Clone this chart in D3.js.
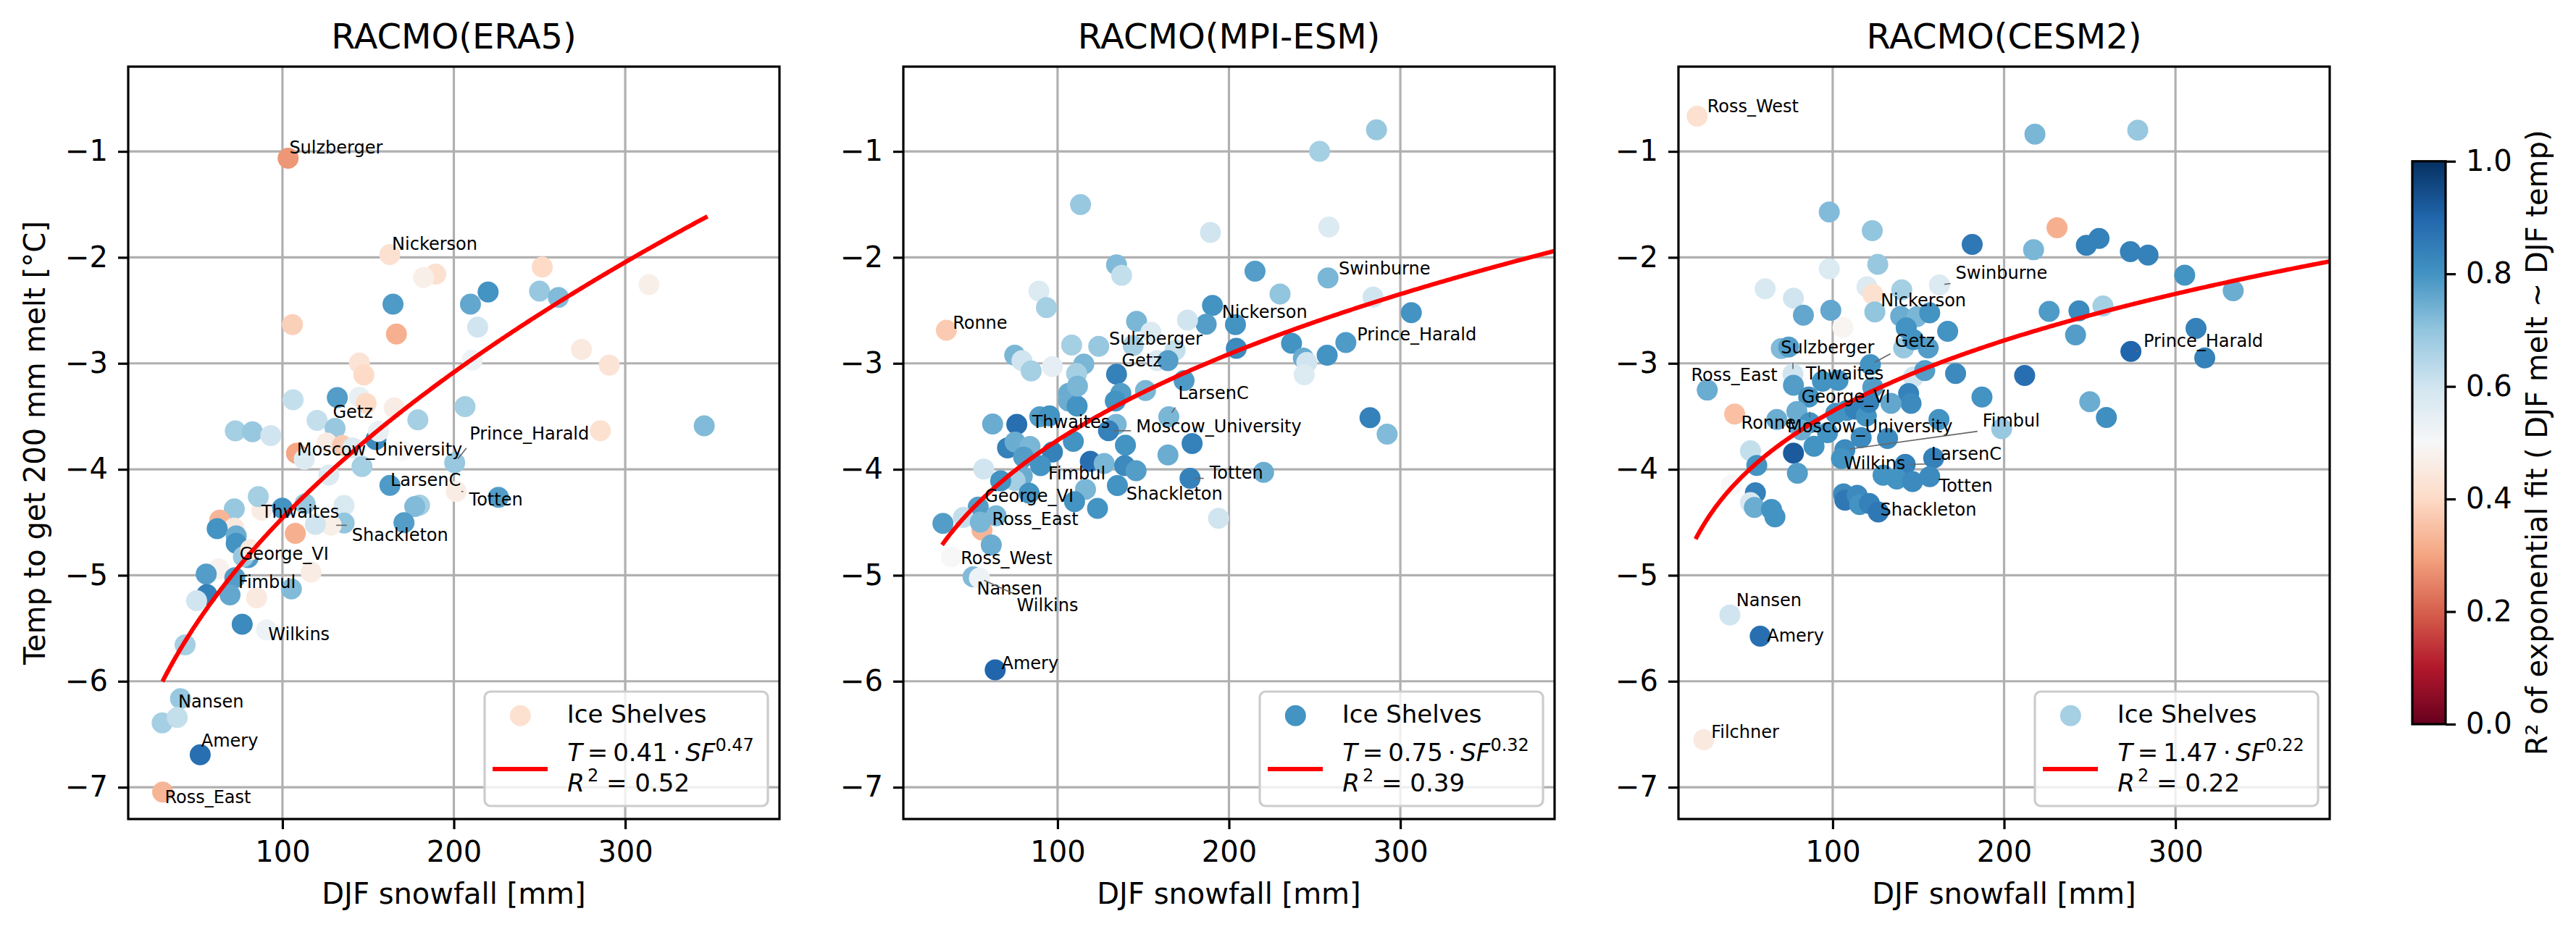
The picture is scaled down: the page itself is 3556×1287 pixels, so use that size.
<!DOCTYPE html>
<html>
<head>
<meta charset="utf-8">
<script src="https://cdn.jsdelivr.net/npm/d3@7"></script>
<style>
  body { margin: 0; background: #ffffff; }
  text { font-family: "DejaVu Sans", sans-serif; }
</style>
</head>
<body>
<svg id="chart" width="3556" height="1287"></svg>
<script>
// ---------------- DATA ----------------
const titles = ["RACMO(ERA5)", "RACMO(MPI-ESM)", "RACMO(CESM2)"];
const xTicks = [100, 200, 300];
const yTicks = [-1, -2, -3, -4, -5, -6, -7];
const cbTicks = [0.0, 0.2, 0.4, 0.6, 0.8, 1.0];
const xDomain = [10, 390];
const yDomain = [-7.3, -0.2];
const xLabel = "DJF snowfall [mm]";
const yLabel = "Temp to get 200 mm melt [°C]";
const cbLabel = "R² of exponential fit ( DJF melt ~ DJF temp)";
const legendName = "Ice Shelves";

// RACMO(ERA5)
const era5SF = [103.3,162.6,189.4,182.3,251.6,313.9,220.0,250.0,261.0,164.5,209.7,105.8,166.5,213.9,274.5,290.7,144.9,147.5,210.7,106.2,132.0,144.9,148.8,165.2,206.5,285.5,346.1,179.0,120.2,130.7,72.5,82.5,93.2,154.5,156.0,125.9,134.9,141.0,169.5,108.2,112.7,146.4,200.5,127.0,162.7,201.4,226.0,180.0,177.2,170.9,135.9,136.0,128.4,119.2,113.2,99.9,107.5,88.0,85.9,71.9,63.4,71.7,61.9,73.0,73.0,80.0,77.2,81.4,62.9,55.5,72.2,116.7,105.2,55.9,69.4,84.9,49.9,76.5,90.7,43.2,40.5,29.8,38.6,52.0,30.1];
const era5T = [-1.065,-1.973,-2.157,-2.191,-2.092,-2.257,-2.327,-2.319,-2.378,-2.441,-2.441,-2.634,-2.724,-2.659,-2.869,-3.017,-2.997,-3.110,-2.970,-3.343,-3.323,-3.320,-3.377,-3.420,-3.408,-3.635,-3.589,-3.533,-3.538,-3.614,-3.638,-3.646,-3.681,-3.719,-3.641,-3.752,-3.776,-3.797,-3.824,-3.849,-3.906,-3.973,-3.938,-4.054,-4.152,-4.209,-4.265,-4.338,-4.352,-4.503,-4.341,-4.506,-4.528,-4.520,-4.325,-4.366,-4.604,-4.385,-4.257,-4.374,-4.479,-4.555,-4.560,-4.628,-4.698,-4.833,-4.825,-4.758,-4.939,-4.988,-5.023,-4.969,-5.128,-5.182,-5.185,-5.212,-5.239,-5.461,-5.515,-5.656,-6.164,-6.393,-6.342,-6.693,-7.046];
const era5R2 = [0.28,0.42,0.42,0.47,0.40,0.47,0.80,0.69,0.72,0.785,0.76,0.38,0.32,0.60,0.45,0.43,0.43,0.40,0.53,0.62,0.78,0.54,0.40,0.46,0.67,0.42,0.72,0.67,0.62,0.69,0.67,0.69,0.60,0.82,0.54,0.46,0.37,0.57,0.50,0.30,0.57,0.67,0.69,0.57,0.785,0.46,0.78,0.67,0.72,0.78,0.58,0.70,0.47,0.60,0.69,0.80,0.32,0.46,0.67,0.69,0.33,0.45,0.80,0.75,0.80,0.785,0.69,0.45,0.48,0.78,0.78,0.46,0.72,0.84,0.76,0.45,0.60,0.82,0.53,0.67,0.69,0.67,0.62,0.88,0.33];
// [name, pointSF, pointT, textSF, textT]
const era5Labels = [
  ["Sulzberger",103.3,-1.065,104.0,-1.02],
  ["Nickerson",162.6,-1.973,163.9,-1.93],
  ["Getz",130.7,-3.614,129.4,-3.513],
  ["Prince_Harald",200.5,-3.938,209.2,-3.722],
  ["Moscow_University",146.4,-3.973,108.4,-3.873],
  ["LarsenC",162.7,-4.152,163.0,-4.155],
  ["Totten",201.4,-4.209,208.9,-4.344],
  ["Thwaites",88.0,-4.385,87.7,-4.46],
  ["Shackleton",128.4,-4.528,140.5,-4.676],
  ["George_VI",80.0,-4.833,75.0,-4.852],
  ["Fimbul",72.2,-5.023,74.2,-5.117],
  ["Wilkins",90.7,-5.515,91.7,-5.61],
  ["Nansen",40.5,-6.164,39.2,-6.245],
  ["Amery",52.0,-6.693,52.6,-6.618],
  ["Ross_East",30.1,-7.046,31.3,-7.151]
];

// RACMO(MPI-ESM)
const mpiSF = [286.1,252.9,113.4,189.2,258.3,134.4,137.4,215.2,229.8,257.8,284.1,306.4,89.1,93.5,35.1,190.4,186.7,175.8,203.8,146.1,154.5,168.6,144.1,108.2,124.0,75.0,79.2,84.6,97.0,115.3,111.1,158.2,164.4,204.3,236.5,243.4,245.4,243.9,257.3,268.2,282.3,292.3,134.4,173.8,151.3,136.9,133.7,134.2,129.7,164.9,139.6,164.4,178.5,106.4,106.4,111.4,111.6,89.6,95.3,62.1,76.2,109.2,97.0,70.8,75.2,83.9,80.2,119.1,127.2,139.1,145.8,90.1,56.9,220.2,177.3,134.9,116.3,123.3,109.9,79.4,75.2,66.8,83.4,53.7,64.1,45.0,55.9,54.9,33.1,61.3,38.0,50.7,54.4,63.6,193.9];
const mpiT = [-0.796,-1.000,-1.501,-1.765,-1.713,-2.070,-2.170,-2.130,-2.346,-2.194,-2.374,-2.522,-2.318,-2.474,-2.687,-2.454,-2.631,-2.591,-2.635,-2.603,-2.707,-2.875,-2.831,-2.827,-2.839,-2.923,-2.975,-3.071,-3.031,-3.007,-3.095,-2.975,-2.975,-2.859,-2.811,-2.951,-2.991,-3.107,-2.923,-2.803,-3.512,-3.668,-3.103,-3.163,-3.256,-3.284,-3.356,-3.576,-3.636,-3.504,-3.772,-3.865,-3.756,-3.284,-3.356,-3.404,-3.216,-3.504,-3.496,-3.572,-3.576,-3.736,-3.837,-3.797,-3.744,-3.784,-3.885,-3.925,-3.945,-3.965,-4.013,-3.965,-3.997,-4.029,-4.085,-4.153,-4.189,-4.369,-4.305,-4.065,-4.105,-4.109,-4.225,-4.357,-4.438,-4.454,-4.574,-4.498,-4.510,-4.714,-4.826,-5.014,-5.026,-5.892,-4.462];
const mpiR2 = [0.69,0.67,0.69,0.60,0.57,0.72,0.62,0.78,0.70,0.73,0.60,0.80,0.57,0.67,0.37,0.80,0.78,0.60,0.80,0.73,0.57,0.62,0.67,0.67,0.69,0.73,0.60,0.67,0.55,0.73,0.67,0.57,0.78,0.82,0.80,0.75,0.60,0.57,0.80,0.785,0.84,0.72,0.84,0.785,0.73,0.78,0.80,0.73,0.84,0.73,0.80,0.75,0.84,0.75,0.75,0.80,0.73,0.78,0.80,0.75,0.88,0.80,0.84,0.84,0.75,0.73,0.78,0.88,0.73,0.82,0.78,0.80,0.60,0.75,0.84,0.80,0.73,0.80,0.80,0.75,0.67,0.80,0.80,0.78,0.73,0.62,0.33,0.73,0.78,0.75,0.50,0.72,0.53,0.90,0.60];
const mpiLabels = [
  ["Ronne",35.1,-2.687,38.8,-2.675],
  ["Swinburne",257.8,-2.194,264.0,-2.162],
  ["Nickerson",190.4,-2.454,195.9,-2.571],
  ["Sulzberger",124.0,-2.839,130.0,-2.827],
  ["Getz",134.4,-3.103,137.4,-3.031],
  ["Prince_Harald",268.2,-2.803,274.7,-2.783],
  ["LarsenC",164.9,-3.504,170.4,-3.336],
  ["Thwaites",89.6,-3.504,85.1,-3.612],
  ["Moscow_University",129.7,-3.636,145.8,-3.652],
  ["Fimbul",90.1,-3.965,94.5,-4.097],
  ["Totten",177.3,-4.085,188.7,-4.085],
  ["George_VI",53.7,-4.357,57.4,-4.305],
  ["Shackleton",134.9,-4.153,140.1,-4.285],
  ["Ross_East",55.9,-4.574,61.8,-4.526],
  ["Ross_West",38.0,-4.826,43.5,-4.894],
  ["Nansen",50.7,-5.014,52.9,-5.179],
  ["Wilkins",54.4,-5.026,76.2,-5.339],
  ["Amery",63.6,-5.892,67.3,-5.888]
];

// RACMO(CESM2)
const cesmSF = [20.9,218.0,278.0,98.0,123.1,230.9,181.4,217.2,248.0,255.4,273.7,284.0,305.4,333.7,126.3,98.0,60.6,77.1,120.0,123.4,140.3,162.3,82.9,98.9,124.6,106.0,139.7,149.1,156.6,142.9,167.1,226.3,243.7,257.7,241.7,312.0,274.0,317.1,70.0,74.3,141.4,155.7,147.1,122.0,76.8,77.1,94.0,103.1,123.4,147.1,153.7,171.7,212.0,26.8,86.0,144.3,145.7,134.0,187.1,250.0,259.7,42.8,67.4,79.1,86.6,162.0,198.6,52.0,77.1,55.7,89.1,79.4,107.1,105.1,116.6,132.0,142.3,158.9,129.4,137.4,146.6,156.6,40.9,54.9,52.0,54.3,64.3,66.3,106.3,107.1,114.3,115.7,121.4,126.6,40.0,57.7,24.8,101.8,108.3,113.1,119.6,121.2,81.6,97.0];
const cesmT = [-0.668,-0.838,-0.800,-1.572,-1.748,-1.720,-1.877,-1.928,-1.886,-1.822,-1.946,-1.978,-2.168,-2.315,-2.066,-2.108,-2.297,-2.385,-2.278,-2.348,-2.306,-2.260,-2.546,-2.500,-2.514,-2.662,-2.555,-2.560,-2.523,-2.666,-2.698,-2.509,-2.505,-2.458,-2.731,-2.671,-2.888,-2.948,-2.860,-2.846,-2.855,-2.855,-2.777,-3.012,-3.100,-3.206,-3.169,-3.160,-3.225,-3.128,-3.068,-3.095,-3.114,-3.252,-3.317,-3.285,-3.377,-3.377,-3.317,-3.363,-3.511,-3.478,-3.529,-3.455,-3.561,-3.529,-3.617,-3.825,-3.848,-3.963,-3.783,-4.037,-3.815,-3.898,-3.700,-3.709,-3.954,-3.894,-4.055,-4.092,-4.115,-4.069,-4.148,-4.222,-4.314,-4.360,-4.378,-4.448,-4.231,-4.291,-4.245,-4.332,-4.323,-4.402,-5.375,-5.574,-6.552,-3.471,-3.445,-3.432,-3.497,-3.367,-3.628,-3.654];
const cesmR2 = [0.42,0.73,0.69,0.72,0.70,0.32,0.86,0.73,0.84,0.84,0.84,0.84,0.80,0.75,0.69,0.57,0.58,0.60,0.57,0.42,0.67,0.57,0.76,0.76,0.70,0.49,0.75,0.73,0.80,0.80,0.80,0.785,0.82,0.67,0.78,0.84,0.90,0.84,0.72,0.78,0.69,0.78,0.80,0.80,0.60,0.78,0.80,0.80,0.78,0.60,0.78,0.82,0.88,0.75,0.80,0.84,0.82,0.76,0.80,0.75,0.81,0.35,0.75,0.75,0.80,0.80,0.69,0.62,0.92,0.80,0.80,0.78,0.82,0.80,0.82,0.82,0.84,0.84,0.80,0.80,0.82,0.82,0.50,0.84,0.58,0.75,0.80,0.80,0.82,0.86,0.82,0.80,0.84,0.86,0.60,0.88,0.45,0.80,0.80,0.84,0.80,0.84,0.75,0.80];
const cesmLabels = [
  ["Ross_West",20.9,-0.668,26.8,-0.631],
  ["Swinburne",162.3,-2.26,171.7,-2.2],
  ["Nickerson",123.4,-2.348,128.0,-2.463],
  ["Sulzberger",76.8,-3.1,69.7,-2.906],
  ["Getz",122.0,-3.012,136.3,-2.846],
  ["Ross_East",26.8,-3.252,17.4,-3.169],
  ["Thwaites",94.0,-3.169,84.3,-3.155],
  ["George_VI",86.6,-3.561,81.7,-3.368],
  ["Ronne",42.8,-3.478,46.6,-3.617],
  ["Moscow_University",89.1,-3.783,73.4,-3.654],
  ["Fimbul",107.1,-3.815,187.4,-3.594],
  ["LarsenC",142.3,-3.954,157.4,-3.908],
  ["Wilkins",105.1,-3.898,106.6,-4.0],
  ["Totten",156.6,-4.069,162.0,-4.208],
  ["Shackleton",126.6,-4.402,127.7,-4.438],
  ["Prince_Harald",274.0,-2.888,281.4,-2.846],
  ["Nansen",40.0,-5.375,43.7,-5.292],
  ["Amery",57.7,-5.574,61.7,-5.629],
  ["Filchner",24.8,-6.552,29.1,-6.538]
];

// Power-law fits T = a * SF^b + c, drawn over [x0, x1]
const fitA = [0.41, 0.75, 1.47];
const fitB = [0.47, 0.32, 0.22];
const fitC = [-8.03, -7.0, -7.5];
const fitR2 = [0.52, 0.39, 0.22];
const fitX0 = [30, 32.6, 20];
const fitX1 = [348, 400, 400];
const legendMarkerR2 = [0.42, 0.80, 0.67];

// ---------------- LAYOUT ----------------
const svg = d3.select("#chart");
const panelLeft = [177, 1247, 2317];
const panelTop = 92, W = 899, H = 1039;
const FS = 40, TITLE_FS = 48, LBL_FS = 24, LEG_FS = 34;
const LW = 3.2, TICK = 14;

const cmap = d3.scaleLinear()
  .domain(d3.range(11).map(i => i / 10))
  .range(d3.schemeRdBu[11])
  .interpolate(d3.interpolateRgb)
  .clamp(true);

const panels = [
  {sf: era5SF, t: era5T, r2: era5R2, labels: era5Labels},
  {sf: mpiSF, t: mpiT, r2: mpiR2, labels: mpiLabels},
  {sf: cesmSF, t: cesmT, r2: cesmR2, labels: cesmLabels}
];

const defs = svg.append("defs");

panels.forEach((p, i) => {
  const x = d3.scaleLinear().domain(xDomain).range([0, W]);
  const y = d3.scaleLinear().domain(yDomain).range([H, 0]);
  const g = svg.append("g").attr("transform", `translate(${panelLeft[i]},${panelTop})`);

  defs.append("clipPath").attr("id", "clip" + i)
    .append("rect").attr("x", 0).attr("y", 0).attr("width", W).attr("height", H);

  // grid (below points)
  const grid = g.append("g");
  grid.selectAll("line.gx").data(xTicks).join("line")
    .attr("x1", d => x(d)).attr("x2", d => x(d)).attr("y1", 0).attr("y2", H)
    .attr("stroke", "#b0b0b0").attr("stroke-width", LW);
  grid.selectAll("line.gy").data(yTicks).join("line")
    .attr("y1", d => y(d)).attr("y2", d => y(d)).attr("x1", 0).attr("x2", W)
    .attr("stroke", "#b0b0b0").attr("stroke-width", LW);

  // points
  const pts = p.sf.map((s, k) => ({s: s, t: p.t[k], r: p.r2[k]}));
  g.append("g").attr("clip-path", `url(#clip${i})`)
    .selectAll("circle").data(pts).join("circle")
    .attr("cx", d => x(d.s)).attr("cy", d => y(d.t)).attr("r", 14.5)
    .attr("fill", d => cmap(d.r));

  // fit curve
  const xs = d3.range(fitX0[i], fitX1[i], 1).concat([fitX1[i]]);
  const line = d3.line().x(d => x(d)).y(d => y(fitA[i] * Math.pow(d, fitB[i]) + fitC[i]));
  g.append("path").attr("clip-path", `url(#clip${i})`)
    .attr("d", line(xs)).attr("fill", "none").attr("stroke", "#ff0000").attr("stroke-width", 6);

  // labels + connectors
  const lblG = g.append("g");
  const conG = g.append("g");
  p.labels.forEach(L => {
    const [name, ps, pt, ts, tt] = L;
    const txt = lblG.append("text").attr("x", x(ts)).attr("y", y(tt))
      .attr("font-size", LBL_FS).attr("fill", "#000").text(name);
    const bb = txt.node().getBBox();
    const px = x(ps), py = y(pt);
    const nx = Math.max(bb.x, Math.min(px, bb.x + bb.width));
    const ny = Math.max(bb.y, Math.min(py, bb.y + bb.height));
    const dx = px - nx, dy = py - ny, dist = Math.hypot(dx, dy);
    const shrink = 7;
    if (dist > 2 * shrink + 2) {
      const ux = dx / dist, uy = dy / dist;
      conG.append("line")
        .attr("x1", nx + ux * shrink).attr("y1", ny + uy * shrink)
        .attr("x2", px - ux * shrink).attr("y2", py - uy * shrink)
        .attr("stroke", "#666").attr("stroke-width", 1.6);
    }
  });

  // axes
  const xAxis = g.append("g").attr("transform", `translate(0,${H})`)
    .call(d3.axisBottom(x).tickValues(xTicks).tickSize(TICK).tickPadding(17).tickFormat(d3.format("d")));
  const yAxis = g.append("g")
    .call(d3.axisLeft(y).tickValues(yTicks).tickSize(TICK).tickPadding(14).tickFormat(d3.format("d")));
  [xAxis, yAxis].forEach(a => {
    a.select(".domain").remove();
    a.selectAll(".tick line").attr("stroke", "#000").attr("stroke-width", LW);
    a.selectAll(".tick text").attr("font-size", FS).attr("fill", "#000")
      .attr("font-family", "DejaVu Sans");
  });

  // spines
  g.append("rect").attr("x", 0).attr("y", 0).attr("width", W).attr("height", H)
    .attr("fill", "none").attr("stroke", "#000").attr("stroke-width", LW);

  // title
  g.append("text").attr("x", W / 2).attr("y", 67 - panelTop).attr("text-anchor", "middle")
    .attr("font-size", TITLE_FS).attr("fill", "#000").text(titles[i]);

  // x label
  g.append("text").attr("x", W / 2).attr("y", 1248 - panelTop).attr("text-anchor", "middle")
    .attr("font-size", FS).attr("fill", "#000").text(xLabel);

  // legend
  const LWd = 391, LH = 158;
  const lg = g.append("g").attr("transform", `translate(${W - 16 - LWd},${H - 18 - LH})`);
  lg.append("rect").attr("x", 0).attr("y", 0).attr("width", LWd).attr("height", LH)
    .attr("rx", 8).attr("ry", 8)
    .attr("fill", "#ffffff").attr("fill-opacity", 0.8)
    .attr("stroke", "#cccccc").attr("stroke-width", LW);
  lg.append("circle").attr("cx", 49.3).attr("cy", 33.3).attr("r", 14.5)
    .attr("fill", cmap(legendMarkerR2[i]));
  lg.append("text").attr("x", 113.7).attr("y", 43.3).attr("font-size", LEG_FS)
    .attr("fill", "#000").text(legendName);
  lg.append("line").attr("x1", 11).attr("x2", 87).attr("y1", 107).attr("y2", 107)
    .attr("stroke", "#ff0000").attr("stroke-width", 6);
  const m1 = lg.append("text").attr("x", 114.3).attr("y", 95.7).attr("font-size", LEG_FS).attr("fill", "#000");
  m1.append("tspan").attr("font-style", "italic").text("T");
  m1.append("tspan").text("\u2009=\u2009" + fitA[i].toFixed(2) + "\u2009·\u2009");
  m1.append("tspan").attr("font-style", "italic").text("SF");
  m1.append("tspan").attr("font-size", 24).attr("dy", -14).text(fitB[i].toFixed(2));
  const m2 = lg.append("text").attr("x", 114.3).attr("y", 137.7).attr("font-size", LEG_FS).attr("fill", "#000");
  m2.append("tspan").attr("font-style", "italic").text("R");
  m2.append("tspan").attr("font-size", 24).attr("dy", -14).attr("dx", 4).text("2");
  m2.append("tspan").attr("dy", 14).text(" = " + fitR2[i].toFixed(2));
});

// y label (first panel only)
svg.append("text").attr("transform", `translate(62,${panelTop + H / 2}) rotate(-90)`)
  .attr("text-anchor", "middle").attr("font-size", FS).attr("fill", "#000").text(yLabel);

// ---------------- COLORBAR ----------------
const cbX = 3330, cbW = 46, cbTop = 222.7, cbBot = 1000;
const grad = defs.append("linearGradient").attr("id", "cbgrad")
  .attr("x1", 0).attr("y1", 1).attr("x2", 0).attr("y2", 0);
d3.range(0, 1.0001, 0.02).forEach(v => {
  grad.append("stop").attr("offset", v).attr("stop-color", cmap(v));
});
svg.append("rect").attr("x", cbX).attr("y", cbTop).attr("width", cbW).attr("height", cbBot - cbTop)
  .attr("fill", "url(#cbgrad)");
svg.append("rect").attr("x", cbX).attr("y", cbTop).attr("width", cbW).attr("height", cbBot - cbTop)
  .attr("fill", "none").attr("stroke", "#000").attr("stroke-width", LW);
const cbScale = d3.scaleLinear().domain([0, 1]).range([cbBot, cbTop]);
const cbAxis = svg.append("g").attr("transform", `translate(${cbX + cbW},0)`)
  .call(d3.axisRight(cbScale).tickValues(cbTicks).tickSize(TICK).tickPadding(14).tickFormat(d3.format(".1f")));
cbAxis.select(".domain").remove();
cbAxis.selectAll(".tick line").attr("stroke", "#000").attr("stroke-width", LW);
cbAxis.selectAll(".tick text").attr("font-size", FS).attr("fill", "#000").attr("font-family", "DejaVu Sans");
svg.append("text").attr("transform", `translate(3516,${(cbTop + cbBot) / 2}) rotate(-90)`)
  .attr("text-anchor", "middle").attr("font-size", FS).attr("fill", "#000").text(cbLabel);
</script>
</body>
</html>
